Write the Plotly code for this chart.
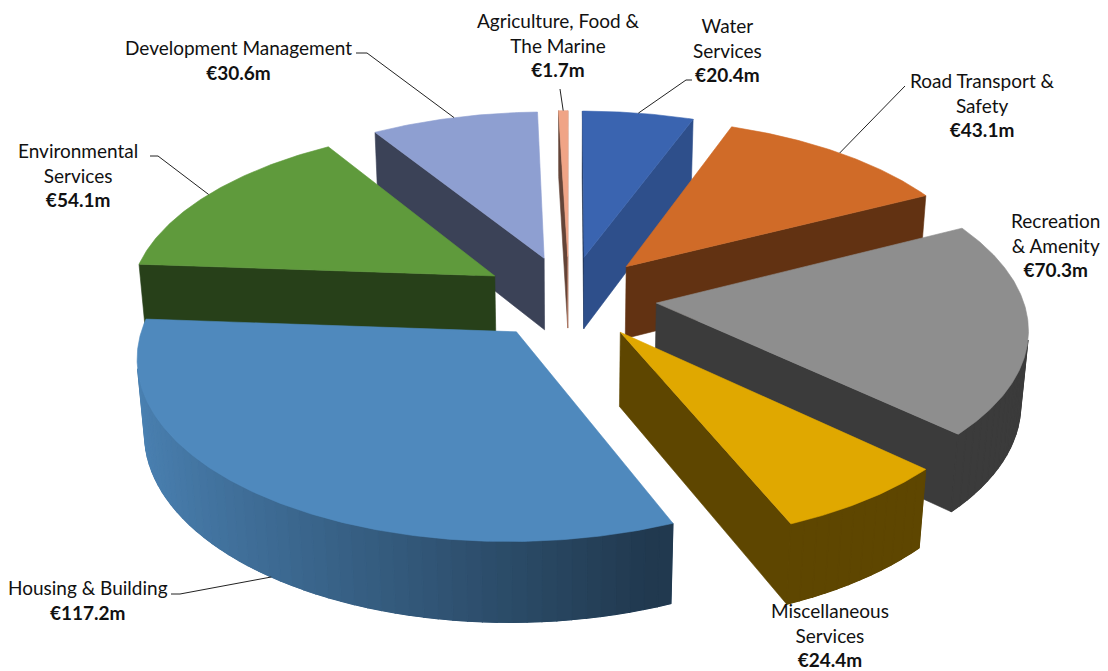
import numpy as np
import plotly.graph_objects as go

# Budget by service division (EUR millions), in clockwise order from 12 o'clock
categories = [
    "Water Services",
    "Road Transport & Safety",
    "Recreation & Amenity",
    "Miscellaneous Services",
    "Housing & Building",
    "Environmental Services",
    "Development Management",
    "Agriculture, Food & The Marine",
]
values = [20.4, 43.1, 70.3, 24.4, 117.2, 54.1, 30.6, 1.7]
label_names = [
    "Water<br>Services",
    "Road Transport &<br>Safety",
    "Recreation<br>& Amenity",
    "Miscellaneous<br>Services",
    "Housing & Building",
    "Environmental<br>Services",
    "Development Management",
    "Agriculture, Food &<br>The Marine",
]
slice_colors = ["#3A64B0", "#D06B28", "#8E8E8E", "#E0A800",
                "#4F89BD", "#5F9A3C", "#8E9FD1", "#F0A486"]

# Label placement (page pixels) and leader-line start points
label_pos = [(727, 50), (982, 105), (1055, 245), (830, 635),
             (88, 600), (78, 175), (238, 60), (558, 45)]
leader_start = [
    [(692, 80), (686, 80)],
    [(905, 86)],
    None,
    None,
    [(171, 594), (180, 594)],
    [(150, 156), (158, 156)],
    [(356, 53), (367, 53)],
    [(560, 89)],
]
leader_anchor_z = [1, 1, None, None, 0, 1, 1, 1]  # 1 = top rim, 0 = bottom rim

# 3-D pie settings
EXPLODE = 0.24
THICK = 0.23
ELEV = np.radians(30)
CAM = 7.0
SCALE = 360
CX, CY = 569, 370

vals = np.array(values, dtype=float)
fr = vals / vals.sum()
ends = np.cumsum(fr) * 2 * np.pi
starts = ends - fr * 2 * np.pi
mids = (starts + ends) / 2

cam_pos = np.array([0.0, -CAM * np.cos(ELEV), CAM * np.sin(ELEV)])


def project(X, Y, Z):
    X, Y, Z = np.asarray(X, float), np.asarray(Y, float), np.asarray(Z, float)
    sy = Y * np.sin(ELEV) + Z * np.cos(ELEV)
    depth = Y * np.cos(ELEV) - Z * np.sin(ELEV)
    f = CAM / (CAM + depth)
    return CX + SCALE * X * f, CY - SCALE * sy * f


def shade(hex_color, k):
    h = hex_color.lstrip("#")
    r, g, b = (int(h[i:i + 2], 16) for i in (0, 2, 4))
    return "rgb({},{},{})".format(int(r * k), int(g * k), int(b * k))


def facing(p, n):
    return float(np.dot(cam_pos - p, n)) > 0


def poly(fig, xs, ys, color, lw=0.6):
    fig.add_trace(go.Scatter(
        x=list(xs) + [xs[0]], y=list(ys) + [ys[0]], mode="lines",
        fill="toself", fillcolor=color,
        line=dict(color=color, width=lw),
        hoverinfo="skip", showlegend=False))


def wall_k(a):
    return float(np.clip(0.55 - 0.4 * np.sin(a), 0.42, 0.95))


fig = go.Figure()

# paint far slices first
order = sorted(range(len(vals)),
               key=lambda i: -np.cos(mids[i]) * (0.6 + EXPLODE))

for i in order:
    s, e, m = starts[i], ends[i], mids[i]
    ox, oy = EXPLODE * np.sin(m), EXPLODE * np.cos(m)
    col = slice_colors[i]

    # radial cut faces
    for ang, nang in ((s, s - np.pi / 2), (e, e + np.pi / 2)):
        n = np.array([np.sin(nang), np.cos(nang), 0.0])
        p = np.array([ox + 0.5 * np.sin(ang), oy + 0.5 * np.cos(ang), THICK / 2])
        if not facing(p, n):
            continue
        X = [ox, ox, ox + np.sin(ang), ox + np.sin(ang)]
        Y = [oy, oy, oy + np.cos(ang), oy + np.cos(ang)]
        Z = [0, THICK, THICK, 0]
        px, py = project(X, Y, Z)
        a = (np.degrees(nang) - 100) % 360
        k = 0.42 + 0.4 * max(0.0, np.cos(np.radians(a))) ** 4
        poly(fig, px, py, shade(col, k))

    # curved outer wall: visible angular range, then narrow shaded bands
    fine = np.linspace(s, e, max(8, int(np.degrees(e - s) * 3)))
    vis = [a for a in fine
           if facing(np.array([ox + np.sin(a), oy + np.cos(a), THICK / 2]),
                     np.array([np.sin(a), np.cos(a), 0.0]))]
    if len(vis) >= 2:
        w0, w1 = vis[0], vis[-1]
        t = np.linspace(w0, w1, 60)
        X = np.concatenate([ox + np.sin(t), ox + np.sin(t[::-1])])
        Y = np.concatenate([oy + np.cos(t), oy + np.cos(t[::-1])])
        Z = np.concatenate([np.full(60, THICK), np.zeros(60)])
        px, py = project(X, Y, Z)
        poly(fig, px, py, shade(col, wall_k((w0 + w1) / 2)))
        nb = max(1, int(np.degrees(w1 - w0) / 2))
        edges = np.linspace(w0, w1, nb + 1)
        for a0, a1 in zip(edges[:-1], edges[1:]):
            am = (a0 + a1) / 2
            t = np.linspace(a0, a1, 4)
            X = np.concatenate([ox + np.sin(t), ox + np.sin(t[::-1])])
            Y = np.concatenate([oy + np.cos(t), oy + np.cos(t[::-1])])
            Z = np.concatenate([np.full(4, THICK), np.zeros(4)])
            px, py = project(X, Y, Z)
            poly(fig, px, py, shade(col, wall_k(am)), lw=1.2)

    # top face
    t = np.linspace(s, e, max(3, int(np.degrees(e - s) * 2)))
    X = np.concatenate([[ox], ox + np.sin(t)])
    Y = np.concatenate([[oy], oy + np.cos(t)])
    Z = np.full(len(X), THICK)
    px, py = project(X, Y, Z)
    poly(fig, px, py, col)

# labels and leader lines
FONT = "Lato, 'Open Sans', sans-serif"
for i in range(len(vals)):
    txt = "{}<br><b>€{:.1f}m</b>".format(label_names[i], values[i])
    lx, ly = label_pos[i]
    fig.add_annotation(x=lx, y=ly, text=txt, showarrow=False,
                       xanchor="center", yanchor="middle",
                       font=dict(family=FONT, size=19, color="#111111"))
    if leader_start[i] is None:
        continue
    m = mids[i]
    ox, oy = EXPLODE * np.sin(m), EXPLODE * np.cos(m)
    ax, ay = project([ox + np.sin(m)], [oy + np.cos(m)],
                     [THICK * leader_anchor_z[i]])
    xs = [p[0] for p in leader_start[i]] + [float(ax[0])]
    ys = [p[1] for p in leader_start[i]] + [float(ay[0])]
    fig.add_trace(go.Scatter(x=xs, y=ys, mode="lines",
                             line=dict(color="#222222", width=1),
                             hoverinfo="skip", showlegend=False))

fig.update_layout(
    width=1108, height=671,
    margin=dict(l=0, r=0, t=0, b=0),
    paper_bgcolor="white", plot_bgcolor="white",
    xaxis=dict(range=[0, 1108], visible=False, fixedrange=True),
    yaxis=dict(range=[671, 0], visible=False, fixedrange=True),
)

fig.write_html("out.html")
